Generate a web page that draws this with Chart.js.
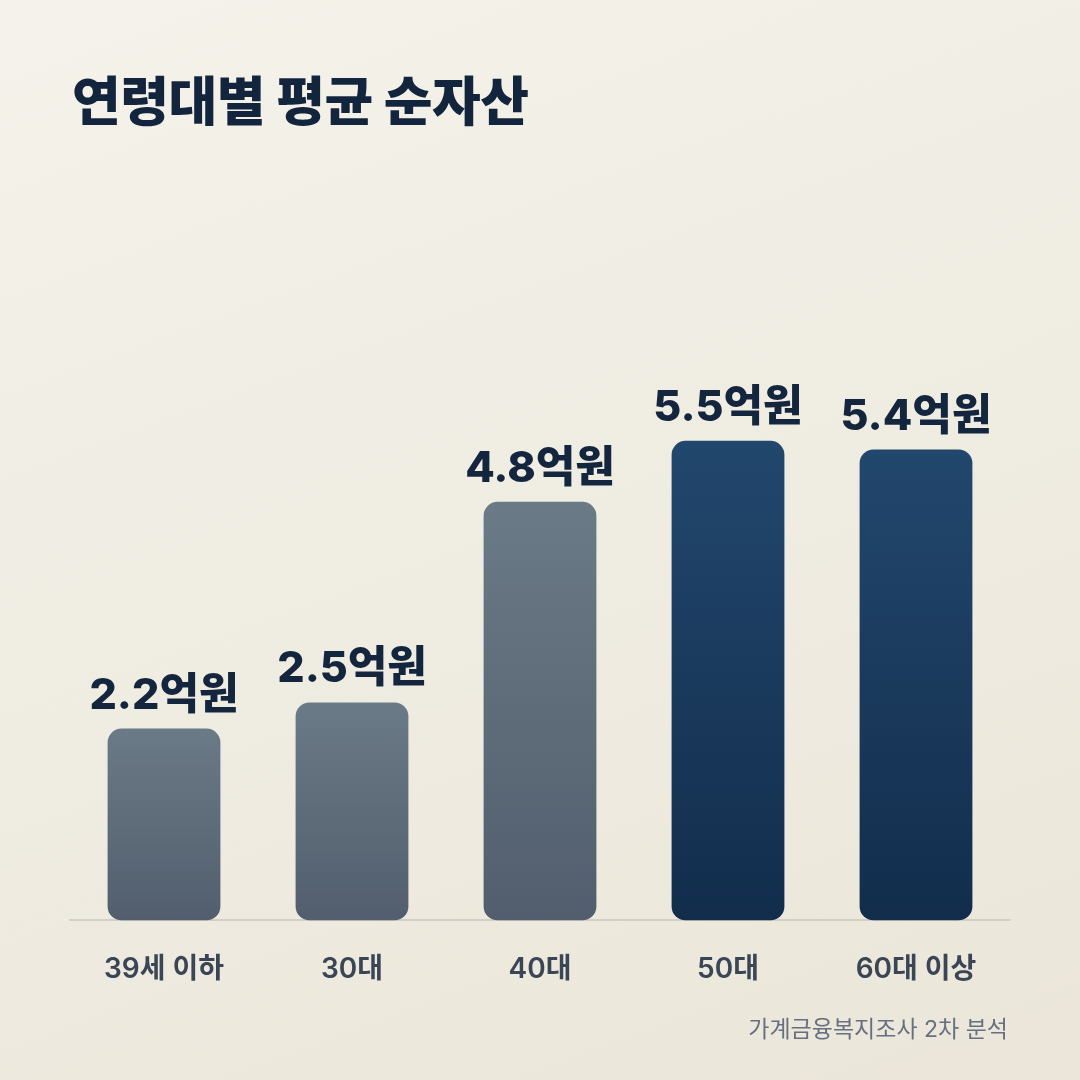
<!DOCTYPE html>
<html lang="ko">
<head>
<meta charset="utf-8">
<script src="https://cdn.jsdelivr.net/npm/chart.js@4"></script>
<style>
  html, body { margin: 0; padding: 0; }
  body {
    width: 1080px; height: 1080px; position: relative; overflow: hidden;
    background: linear-gradient(160deg, #f4f2ea 0%, #efece2 50%, #ebe6d9 100%);
    font-family: Inter, "Noto Sans CJK KR", sans-serif;
  }
  h1 {
    position: absolute; left: 72px; top: 60px; margin: 0;
    font-size: 53px; font-weight: 800; color: #13243d; letter-spacing: -0.5px;
  }
  .note {
    position: absolute; right: 72px; top: 1010px;
    font-size: 23px; color: #667080;
  }
  #wrap { position: absolute; left: 0; top: 0; width: 1080px; height: 1080px; }
</style>
</head>
<body>
<h1>연령대별 평균 순자산</h1>
<div id="wrap"><canvas id="chart"></canvas></div>
<div class="note">가계금융복지조사 2차 분석</div>
<script>
// 연령대별 평균 순자산 (억원)
const ageGroups = ['39세 이하', '30대', '40대', '50대', '60대 이상'];
const netAssets = [2.2, 2.5, 4.8, 5.5, 5.4];
const highlight = [false, false, false, true, true];

const FONT = 'Inter, "Noto Sans CJK KR", sans-serif';

function barFill(ctx) {
  const chart = ctx.chart;
  const area = chart.chartArea;
  if (!area) return '#5d6a78';
  const yScale = chart.scales.y;
  const top = yScale.getPixelForValue(netAssets[ctx.dataIndex]);
  const g = chart.ctx.createLinearGradient(0, top, 0, area.bottom);
  if (highlight[ctx.dataIndex]) {
    g.addColorStop(0, '#22476d');
    g.addColorStop(1, '#122d4c');
  } else {
    g.addColorStop(0, '#6b7a87');
    g.addColorStop(1, '#525e6d');
  }
  return g;
}

// value labels above each bar
const valueLabels = {
  id: 'valueLabels',
  afterDatasetsDraw(chart) {
    const c = chart.ctx;
    const meta = chart.getDatasetMeta(0);
    c.save();
    c.font = '800 43px ' + FONT;
    c.fillStyle = '#14253e';
    c.textAlign = 'center';
    c.textBaseline = 'alphabetic';
    meta.data.forEach((bar, i) => {
      c.fillText(netAssets[i] + '억원', bar.x, bar.y - 20);
    });
    c.restore();
  }
};

new Chart(document.getElementById('chart'), {
  type: 'bar',
  data: {
    labels: ageGroups,
    datasets: [{
      data: netAssets,
      backgroundColor: barFill,
      borderRadius: 14,
      borderSkipped: false,
      categoryPercentage: 0.6,
      barPercentage: 1.0
    }]
  },
  options: {
    responsive: true,
    maintainAspectRatio: false,
    animation: false,
    layout: { padding: { left: 70, right: 70, top: 310, bottom: 70 } },
    plugins: { legend: { display: false }, tooltip: { enabled: false } },
    scales: {
      x: {
        grid: { display: false },
        border: { color: '#d2cfc5', width: 2 },
        ticks: {
          color: '#3a4556',
          font: { family: FONT, size: 28, weight: '600' },
          padding: 24
        }
      },
      y: {
        display: false,
        min: 0,
        max: 7
      }
    }
  },
  plugins: [valueLabels]
});
</script>
</body>
</html>
